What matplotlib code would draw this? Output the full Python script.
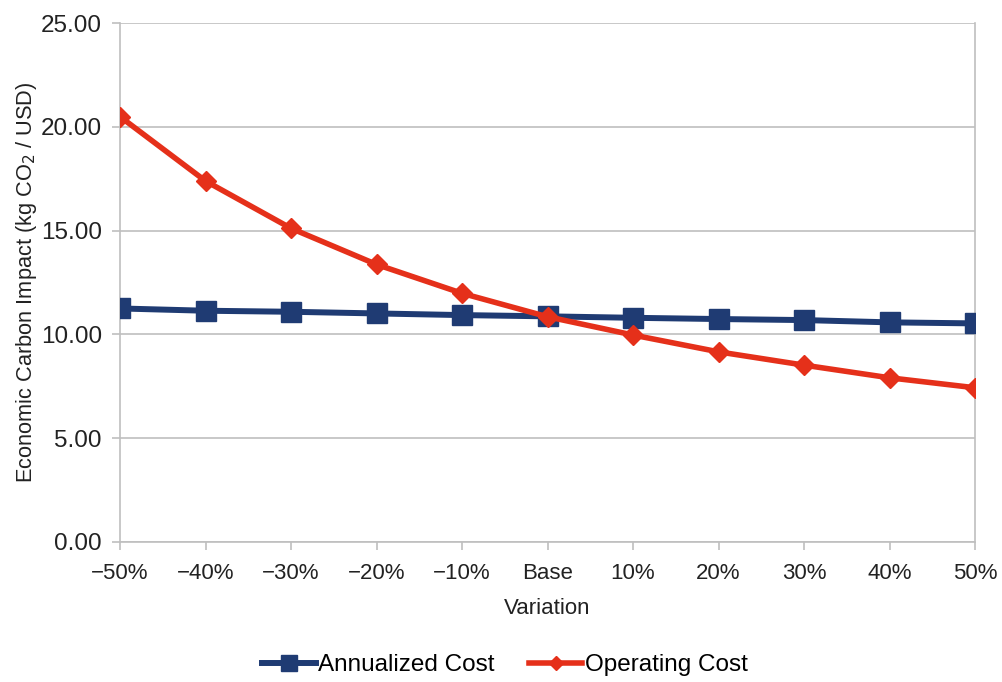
import matplotlib
matplotlib.use("Agg")
import matplotlib.pyplot as plt

categories = ["\u221250%", "\u221240%", "\u221230%", "\u221220%", "\u221210%", "Base",
              "10%", "20%", "30%", "40%", "50%"]
annualized_cost = [11.25, 11.14, 11.09, 11.01, 10.93, 10.87, 10.80, 10.74, 10.69, 10.58, 10.53]
operating_cost = [20.49, 17.39, 15.11, 13.37, 11.98, 10.85, 9.97, 9.16, 8.52, 7.91, 7.43]
y_ticks = [0, 5, 10, 15, 20, 25]

plt.rcParams["font.family"] = ["Liberation Sans", "DejaVu Sans"]

fig = plt.figure(figsize=(10.03, 6.82), dpi=100)
ax = fig.add_axes([120 / 1003, 1 - 542 / 682, (975 - 120) / 1003, (542 - 23) / 682])

x = list(range(len(categories)))
blue = "#1F3B73"
red = "#E5301A"
ax.plot(x, annualized_cost, color=blue, lw=4.3, marker="s", ms=14.5, mec=blue,
        label="Annualized Cost", zorder=3)
ax.plot(x, operating_cost, color=red, lw=4.0, marker="D", ms=10, mec=red,
        label="Operating Cost", zorder=4)

ax.set_xlim(0, len(categories) - 1)
ax.set_ylim(0, 25)
ax.set_yticks(y_ticks)
ax.set_yticklabels([f"{v:.2f}" for v in y_ticks], fontsize=17.5, color="#222222")
ax.set_xticks(x)
ax.set_xticklabels(categories, fontsize=16, color="#222222")

grid_c = "#BFBFBF"
ax.grid(axis="y", color=grid_c, lw=1.2)
ax.set_axisbelow(True)
ax.spines["top"].set_visible(False)
for s in ["left", "bottom", "right"]:
    ax.spines[s].set_color(grid_c)
    ax.spines[s].set_linewidth(1.2)
ax.tick_params(axis="both", color=grid_c, length=6, width=1.2)
ax.tick_params(axis="x", pad=9)
ax.tick_params(axis="y", pad=7)

ax.set_xlabel("Variation", fontsize=16, color="#222222", labelpad=10)
ax.set_ylabel("Economic Carbon Impact (kg CO$_2$ / USD)", fontsize=15.7, color="#222222", labelpad=1)

fig.legend(loc="center", bbox_to_anchor=(505 / 1003, 1 - 665 / 682), ncol=2, frameon=False,
           fontsize=17.5, handlelength=2.2, handletextpad=0.1, columnspacing=1.4,
           markerscale=0.75)

fig.savefig("out.png", dpi=100)
